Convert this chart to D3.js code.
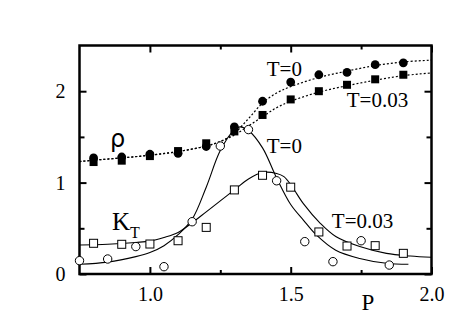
<!DOCTYPE html>
<html>
    <head>
        <meta charset="utf-8">
        <title>rho and K_T vs P</title>
        <style>
body {
    margin: 0;
    background-color: white;
}

svg text {
    font-family: 'Liberation Serif', 'Times New Roman', serif;
    fill: black;
}

.tick line {
    stroke: black;
    stroke-width: 2;
}

.tick text {
    font-size: 20px;
}

.fit-rho {
    fill: none;
    stroke: black;
    stroke-width: 1.2;
    stroke-dasharray: 2, 2;
}

.fit-k {
    fill: none;
    stroke: black;
    stroke-width: 1.1;
}
</style>
        <script src="https://d3js.org/d3.v7.min.js"></script>
    </head>
    <body>
        <script>
// density rho, measured points (filled symbols)
var pRho = [0.8, 0.9, 1.0, 1.1, 1.2, 1.3, 1.4, 1.5, 1.6, 1.7, 1.8, 1.9];
var rhoT0 = [1.27, 1.28, 1.31, 1.32, 1.395, 1.61, 1.89, 2.10, 2.18, 2.205, 2.29, 2.31];
var rhoT003 = [1.225, 1.24, 1.29, 1.345, 1.43, 1.56, 1.74, 1.91, 2.00, 2.07, 2.13, 2.18];

// compressibility K_T, measured points (open symbols)
var pKT0 = [0.75, 0.85, 0.95, 1.05, 1.15, 1.25, 1.35, 1.45, 1.55, 1.65, 1.75, 1.85];
var kT0 = [0.146, 0.164, 0.30, 0.08, 0.572, 1.40, 1.58, 1.02, 0.354, 0.135, 0.364, 0.098];
var pKT003 = [0.8, 0.9, 1.0, 1.1, 1.2, 1.3, 1.4, 1.5, 1.6, 1.7, 1.8, 1.9];
var kT003 = [0.336, 0.325, 0.328, 0.364, 0.51, 0.92, 1.08, 0.95, 0.46, 0.306, 0.31, 0.226];

// fitted curves
var rhoFitP0 = [0.75, 0.8, 0.9, 1.0, 1.1, 1.2, 1.25, 1.3, 1.35, 1.4, 1.45, 1.5, 1.6, 1.7, 1.8, 1.9, 2.0];
var rhoFitT0 = [1.23, 1.245, 1.27, 1.30, 1.34, 1.40, 1.45, 1.54, 1.70, 1.87, 1.98, 2.05, 2.15, 2.22, 2.28, 2.32, 2.34];
var rhoFitP003 = [0.75, 0.8, 0.9, 1.0, 1.1, 1.2, 1.25, 1.3, 1.35, 1.4, 1.45, 1.5, 1.6, 1.7, 1.8, 1.9, 2.0];
var rhoFitT003 = [1.23, 1.245, 1.27, 1.30, 1.34, 1.40, 1.45, 1.52, 1.62, 1.72, 1.82, 1.89, 1.99, 2.06, 2.12, 2.17, 2.20];

var kFitP0 = [0.75, 0.85, 0.95, 1.0, 1.05, 1.1, 1.15, 1.2, 1.25, 1.3, 1.32, 1.35, 1.4, 1.45, 1.5, 1.545, 1.59, 1.66, 1.745, 1.84, 1.918];
var kFitT0 = [0.107, 0.13, 0.19, 0.235, 0.31, 0.43, 0.60, 0.95, 1.35, 1.58, 1.61, 1.57, 1.38, 1.05, 0.76, 0.59, 0.43, 0.26, 0.17, 0.117, 0.106];
var kFitP003 = [0.75, 0.85, 0.95, 1.0, 1.05, 1.1, 1.15, 1.2, 1.25, 1.3, 1.35, 1.4, 1.45, 1.476, 1.505, 1.545, 1.605, 1.66, 1.745, 1.84, 1.925, 2.0];
var kFitT003 = [0.317, 0.325, 0.345, 0.36, 0.40, 0.455, 0.56, 0.68, 0.80, 0.92, 1.04, 1.11, 1.10, 1.065, 0.955, 0.77, 0.555, 0.41, 0.30, 0.226, 0.197, 0.183];

var xMajor = [1.0, 1.5, 2.0];
var xMinor = [1.25, 1.75];
var yMajor = [0, 1, 2];
var yMinor = [0.5, 1.5];

var width = 457,
    height = 322;

var frameLeft = 79.5, frameRight = 431.5, frameTop = 45.5, frameBottom = 274;

var x = d3.scaleLinear().domain([0.75, 2.0]).range([frameLeft, frameRight]);
var y = d3.scaleLinear().domain([0, 2.5]).range([frameBottom, frameTop]);

var svg = d3.select('body')
    .append('svg')
    .attr('width', width)
    .attr('height', height);

var zip = function (xs, ys) {
    return xs.map(function (p, i) { return [p, ys[i]]; });
};

// ticks on all four sides, pointing inward
svg.append('g')
    .attr('transform', 'translate(0,' + frameBottom + ')')
    .call(d3.axisBottom(x).tickValues(xMajor).tickSize(-7).tickPadding(13).tickFormat(d3.format('.1f')));
svg.append('g')
    .attr('transform', 'translate(0,' + frameBottom + ')')
    .call(d3.axisBottom(x).tickValues(xMinor).tickSize(-4).tickFormat(''));
svg.append('g')
    .attr('transform', 'translate(0,' + frameTop + ')')
    .call(d3.axisTop(x).tickValues(xMajor).tickSize(-7).tickFormat(''));
svg.append('g')
    .attr('transform', 'translate(0,' + frameTop + ')')
    .call(d3.axisTop(x).tickValues(xMinor).tickSize(-4).tickFormat(''));
svg.append('g')
    .attr('transform', 'translate(' + frameLeft + ',0)')
    .call(d3.axisLeft(y).tickValues(yMajor).tickSize(-7).tickPadding(14).tickFormat(d3.format('d')));
svg.append('g')
    .attr('transform', 'translate(' + frameLeft + ',0)')
    .call(d3.axisLeft(y).tickValues(yMinor).tickSize(-5).tickFormat(''));
svg.append('g')
    .attr('transform', 'translate(' + frameRight + ',0)')
    .call(d3.axisRight(y).tickValues(yMajor).tickSize(-7).tickFormat(''));
svg.append('g')
    .attr('transform', 'translate(' + frameRight + ',0)')
    .call(d3.axisRight(y).tickValues(yMinor).tickSize(-5).tickFormat(''));

svg.selectAll('.domain').remove();

svg.append('rect')
    .attr('x', frameLeft)
    .attr('y', frameTop)
    .attr('width', frameRight - frameLeft)
    .attr('height', frameBottom - frameTop)
    .style('fill', 'none')
    .style('stroke', 'black')
    .style('stroke-width', 2.5);

var plot = svg.append('g');

var line = d3.line()
    .x(function (d) { return x(d[0]); })
    .y(function (d) { return y(d[1]); })
    .curve(d3.curveCatmullRom.alpha(0.5));

plot.append('path').attr('class', 'fit-rho').attr('d', line(zip(rhoFitP0, rhoFitT0)));
plot.append('path').attr('class', 'fit-rho').attr('d', line(zip(rhoFitP003, rhoFitT003)));
plot.append('path').attr('class', 'fit-k').attr('d', line(zip(kFitP0, kFitT0)));
plot.append('path').attr('class', 'fit-k').attr('d', line(zip(kFitP003, kFitT003)));

var sq = 8;

var drawSquares = function (data, filled) {
    plot.selectAll(null)
        .data(data)
        .enter()
        .append('rect')
        .attr('x', function (d) { return x(d[0]) - sq / 2; })
        .attr('y', function (d) { return y(d[1]) - sq / 2; })
        .attr('width', sq)
        .attr('height', sq)
        .style('fill', filled ? 'black' : 'white')
        .style('stroke', 'black')
        .style('stroke-width', filled ? 0 : 1);
};

var drawCircles = function (data, filled) {
    plot.selectAll(null)
        .data(data)
        .enter()
        .append('circle')
        .attr('cx', function (d) { return x(d[0]); })
        .attr('cy', function (d) { return y(d[1]); })
        .attr('r', filled ? 4.4 : 4.2)
        .style('fill', filled ? 'black' : 'white')
        .style('stroke', 'black')
        .style('stroke-width', filled ? 0 : 1);
};

drawSquares(zip(pKT003, kT003), false);
drawCircles(zip(pKT0, kT0), false);
drawSquares(zip(pRho, rhoT003), true);
drawCircles(zip(pRho, rhoT0), true);

// labels
var label = function (px, py, txt, size) {
    return svg.append('text')
        .attr('x', x(px))
        .attr('y', y(py))
        .style('font-size', size + 'px')
        .text(txt);
};

label(1.415, 2.166, 'T=0', 21);
label(1.699, 1.83, 'T=0.03', 21);
label(1.415, 1.324, 'T=0', 21);
label(1.646, 0.503, 'T=0.03', 21);

svg.append('text')
    .attr('x', x(0.858))
    .attr('y', y(1.39))
    .style('font-family', "'DejaVu Sans', sans-serif")
    .style('font-size', '24px')
    .text('ρ');

var kt = svg.append('text')
    .attr('x', x(0.865))
    .attr('y', y(0.48))
    .style('font-size', '25px')
    .text('K');
kt.append('tspan')
    .attr('dy', 8)
    .style('font-size', '16px')
    .text('T');

svg.append('text')
    .attr('x', x(1.774))
    .attr('y', 310)
    .attr('text-anchor', 'middle')
    .style('font-size', '23px')
    .text('P');

        </script>
    </body>
</html>
